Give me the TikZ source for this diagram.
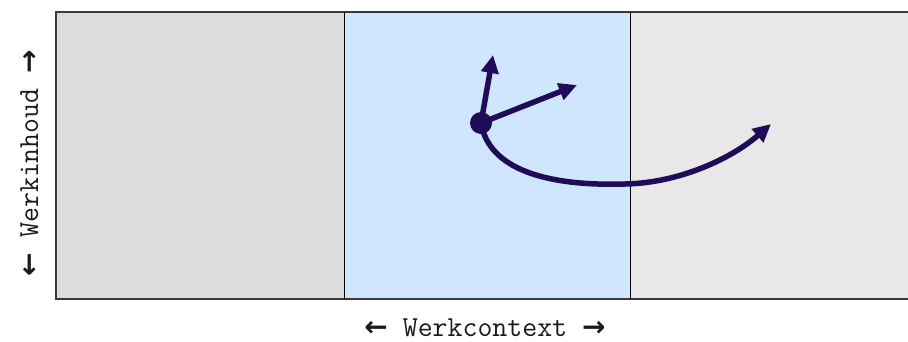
\documentclass[tikz,border=0pt]{standalone}
\usepackage{fontspec}
\newfontfamily\arrowfont{DejaVu Sans}
\usetikzlibrary{arrows.meta}
\definecolor{pleft}{HTML}{DCDCDC}
\definecolor{pmid}{HTML}{D0E6FE}
\definecolor{pright}{HTML}{E8E8E8}
\definecolor{ink}{HTML}{1F0B58}
\definecolor{frame}{HTML}{3A3A3A}
\definecolor{txt}{HTML}{1A1A1A}
\newcommand{\la}{{\arrowfont\bfseries\fontsize{28}{28}\selectfont ←}}
\newcommand{\ra}{{\arrowfont\bfseries\fontsize{28}{28}\selectfont →}}
\tikzset{
  panel/.style={draw=none, minimum height=287pt, inner sep=0pt, outer sep=0pt},
  move/.style={draw=ink, line width=5.5pt, -{Triangle[length=18pt,width=17pt]}},
  label/.style={inner sep=0pt, text=txt, font=\ttfamily\fontsize{29}{29}\selectfont}
}
\begin{document}
\begin{tikzpicture}[x=1pt,y=-1pt]
\useasboundingbox (0,0) rectangle (908,341);
\node[panel, fill=pleft, anchor=north west, minimum width=288pt] (pl) at (56,12) {};
\node[panel, fill=pmid, anchor=north west, minimum width=286pt] (pm) at (344,12) {};
\node[panel, fill=pright, anchor=north west, minimum width=278pt] (pr) at (630,12) {};
\draw[frame, line width=2pt] (pr.north east) -- (pl.north west) -- (pl.south west) -- (pr.south east);
\draw[black, line width=1pt] (pm.north west) -- (pm.south west);
\draw[black, line width=1pt] (pm.north east) -- (pm.south east);
\node[circle, fill=ink, minimum size=22pt, inner sep=0pt] (dot) at (481,123) {};
\coordinate (up) at (493,55);
\coordinate (side) at (577,85);
\coordinate (far) at (771,124);
\coordinate (low) at (625,184);
\draw[move] (dot.center) -- (up);
\draw[move] (dot.center) -- (side);
\draw[move] (dot.center) .. controls (490,175) and (560,186) .. (low) .. controls (680,183) and (732,158) .. (far);
\node[label, anchor=base] (wc) at (485,336) {\la\ Werkcontext \ra};
\node[label, anchor=base, rotate=90] (wi) at (38,163) {\la\ Werkinhoud \ra};
\end{tikzpicture}
\end{document}
